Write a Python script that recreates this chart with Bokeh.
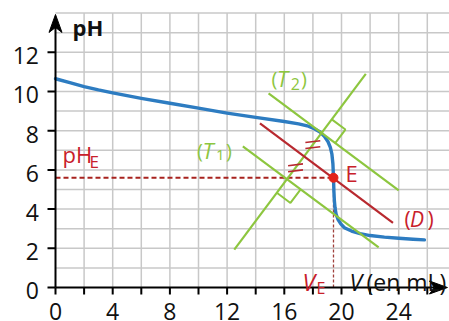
import numpy as np
from bokeh.plotting import figure
from bokeh.models import Range1d
from bokeh.embed import file_html
from bokeh.resources import INLINE
from bokeh.core.properties import value

# ---------------- data ----------------
volume_ml = [0, 1, 2, 3, 4, 6, 8, 10, 12, 14, 16, 17, 17.6, 18.1, 18.5, 18.8,
             19.05, 19.22, 19.33, 19.4, 19.44, 19.47, 19.5, 19.55, 19.62, 19.75,
             19.95, 20.2, 20.7, 21.3, 22.0, 23.0, 24.0, 25.0, 25.8]
ph_values = [10.65, 10.45, 10.25, 10.08, 9.93, 9.65, 9.4, 9.15, 8.9, 8.68, 8.47,
             8.35, 8.25, 8.1, 7.93, 7.72, 7.45, 7.15, 6.8, 6.3, 5.6, 4.9, 4.45,
             4.05, 3.75, 3.48, 3.25, 3.05, 2.88, 2.75, 2.65, 2.57, 2.51, 2.46, 2.43]

x_major_ticks = [0, 4, 8, 12, 16, 20, 24]
x_minor_ticks = [2, 6, 10, 14, 18, 22, 26]
y_ticks = [0, 2, 4, 6, 8, 10, 12]
x_grid = [2, 4, 6, 8, 10, 12, 14, 16, 18, 20, 22, 24, 26]
y_grid = [1, 2, 3, 4, 5, 6, 7, 8, 9, 10, 11, 12, 13, 14]
y_top = 14

V_E = 19.44
PH_E = 5.6

# construction lines (end points)
t1_x = [13.1, 22.6]
t1_y = [7.2, 2.05]
t2_x = [14.9, 24.0]
t2_y = [9.9, 4.95]
d_x = [14.3, 23.6]
d_y = [8.37, 3.3]
n_x = [12.5, 21.7]
n_y = [1.93, 10.9]

# ---------------- figure geometry ----------------
W, H = 449, 321
OX, OY = 55, 287          # canvas pixel of the data origin
SX, SY = 14.3, 19.6       # pixels per unit
FONT = "Open Sans"
BASE = 0.35               # baseline correction (fraction of font size)

BLUE = "#2d7cc1"
GREEN = "#8dc63f"
RED_LINE = "#b8292f"
RED_TXT = "#c8202a"
RED_DASH = "#a8231f"
GRID = "#c8c8c8"

p = figure(width=W, height=H,
           x_range=Range1d(-OX / SX, (W - OX) / SX),
           y_range=Range1d(-(H - OY) / SY, OY / SY),
           x_axis_type=None, y_axis_type=None,
           toolbar_location=None, output_backend="svg", min_border=0)
p.outline_line_color = None
p.background_fill_color = "white"

# grid
p.segment(x0=x_grid, y0=[0] * len(x_grid), x1=x_grid, y1=[y_top] * len(x_grid),
          line_color=GRID, line_width=1.5)
p.segment(x0=[0] * len(y_grid), y0=y_grid, x1=[(W - OX) / SX] * len(y_grid), y1=y_grid,
          line_color=GRID, line_width=1.5)

# dashed guides
p.line([V_E, V_E], [0, PH_E], line_color="#a0403c", line_width=1.3, line_dash="3 2")
p.line([0, V_E], [PH_E, PH_E], line_color=RED_DASH, line_width=2.2, line_dash="5 3")

# titration curve
p.line(volume_ml, ph_values, line_color=BLUE, line_width=3.4, line_cap="round",
       line_join="round")

# construction lines
for xs, ys in [(t1_x, t1_y), (t2_x, t2_y), (n_x, n_y)]:
    p.line(xs, ys, line_color=GREEN, line_width=2.2)
p.line(d_x, d_y, line_color=RED_LINE, line_width=2.2)


def intersect(ax, ay, bx, by):
    m1 = (ay[1] - ay[0]) / (ax[1] - ax[0])
    m2 = (by[1] - by[0]) / (bx[1] - bx[0])
    x = (by[0] - ay[0] + m1 * ax[0] - m2 * bx[0]) / (m1 - m2)
    return np.array([x, ay[0] + m1 * (x - ax[0])])


def unit_px(xs, ys, sign):
    v = np.array([(xs[1] - xs[0]) * SX, (ys[1] - ys[0]) * SY]) * sign
    return v / np.hypot(*v)


i_t2 = intersect(n_x, n_y, t2_x, t2_y)
i_d = intersect(n_x, n_y, d_x, d_y)
i_t1 = intersect(n_x, n_y, t1_x, t1_y)

# right-angle markers
side = 17
sq_xs, sq_ys = [], []
for I, ua, ub in [(i_t2, unit_px(n_x, n_y, 1), unit_px(t2_x, t2_y, 1)),
                  (i_t1, unit_px(n_x, n_y, -1), unit_px(t1_x, t1_y, 1))]:
    pts = [ua * side, (ua + ub) * side, ub * side]
    sq_xs.append([I[0] + q[0] / SX for q in pts])
    sq_ys.append([I[1] + q[1] / SY for q in pts])
p.multi_line(sq_xs, sq_ys, line_color=GREEN, line_width=2)

# equal-length marks ("=" signs on the perpendicular)
mids = [(i_t2 + i_d) / 2, (i_d + i_t1) / 2]
ang = 0.12
half = 7.5
ex0, ey0, ex1, ey1 = [], [], [], []
for m in mids:
    for off in (-3, 3):
        cx, cy = m[0], m[1] + off / SY
        ex0.append(cx - half * np.cos(ang) / SX)
        ey0.append(cy - half * np.sin(ang) / SY)
        ex1.append(cx + half * np.cos(ang) / SX)
        ey1.append(cy + half * np.sin(ang) / SY)
p.segment(x0=ex0, y0=ey0, x1=ex1, y1=ey1, line_color=RED_LINE, line_width=1.6)

# equivalence point
p.scatter([V_E], [PH_E], size=9, fill_color="#e3241b", line_color="#e3241b")

# axes
p.line([0, 0], [0, y_top - 0.6], line_color="black", line_width=2)
p.line([0, 27.4 - 0.9], [0, 0], line_color="black", line_width=2)
p.segment(x0=[0] * len(y_ticks), y0=y_ticks, x1=[-8 / SX] * len(y_ticks), y1=y_ticks,
          line_color="black", line_width=2)
xt = x_major_ticks + x_minor_ticks
p.segment(x0=xt, y0=[0] * len(xt), x1=xt, y1=[-7 / SY] * len(xt),
          line_color="black", line_width=2)

tip_y = 13.93
p.patch([0, -6.5 / SX, 0, 6.5 / SX],
        [tip_y, tip_y - 18 / SY, tip_y - 13 / SY, tip_y - 18 / SY],
        fill_color="black", line_color="black")
tip_x = 27.41
p.patch([tip_x, tip_x - 18 / SX, tip_x - 13 / SX, tip_x - 18 / SX],
        [0, 6.5 / SY, 0, -6.5 / SY], fill_color="black", line_color="black")

# tick labels
p.text(x=x_major_ticks, y=[0] * len(x_major_ticks), text=[str(t) for t in x_major_ticks],
       y_offset=32 - BASE * 23, text_align="center", text_baseline="alphabetic",
       text_font=value(FONT), text_font_size="23px", text_color="#111111")
p.text(x=[0] * len(y_ticks), y=y_ticks, text=[str(t) for t in y_ticks],
       x_offset=-16.5, y_offset=11.5 - BASE * 23, text_align="right",
       text_baseline="alphabetic",
       text_font=value(FONT), text_font_size="23px", text_color="#111111")


def label(x, y, s, size, color="black", style="normal"):
    p.text(x=[x], y=[y], text=[s], text_font=value(FONT), text_font_size=f"{size}px",
           text_font_style=style, text_color=color, text_align="left",
           text_baseline="alphabetic", y_offset=-BASE * size)


label(1.19, 12.91, "pH", 22, "#111111", "bold")
label(0.49, 6.43, "pH", 22, RED_TXT)
label(2.38, 6.12, "E", 17, RED_TXT)

label(9.90, 6.63, "(", 20, GREEN)
label(10.28, 6.63, "T", 22, GREEN, "italic")
label(11.22, 6.48, "1", 15, GREEN)
label(11.92, 6.63, ")", 20, GREEN)

label(15.10, 10.31, "(", 20, GREEN)
label(15.49, 10.31, "T", 22, GREEN, "italic")
label(16.45, 10.10, "2", 16, GREEN)
label(17.17, 10.31, ")", 20, GREEN)

label(20.28, 5.46, "E", 22, RED_TXT)

label(24.41, 3.14, "(", 21, RED_TXT)
label(24.79, 3.14, "D", 21, RED_TXT, "italic")
label(26.01, 3.14, ")", 21, RED_TXT)

label(17.27, -0.153, "V", 23, RED_TXT, "italic")
label(18.25, -0.306, "E", 16, RED_TXT)

label(20.56, -0.153, "V", 23, "#111111", "italic")
label(21.75, -0.153, "(en mL)", 23, "#111111")

open("out.html", "w").write(file_html(p, INLINE))
